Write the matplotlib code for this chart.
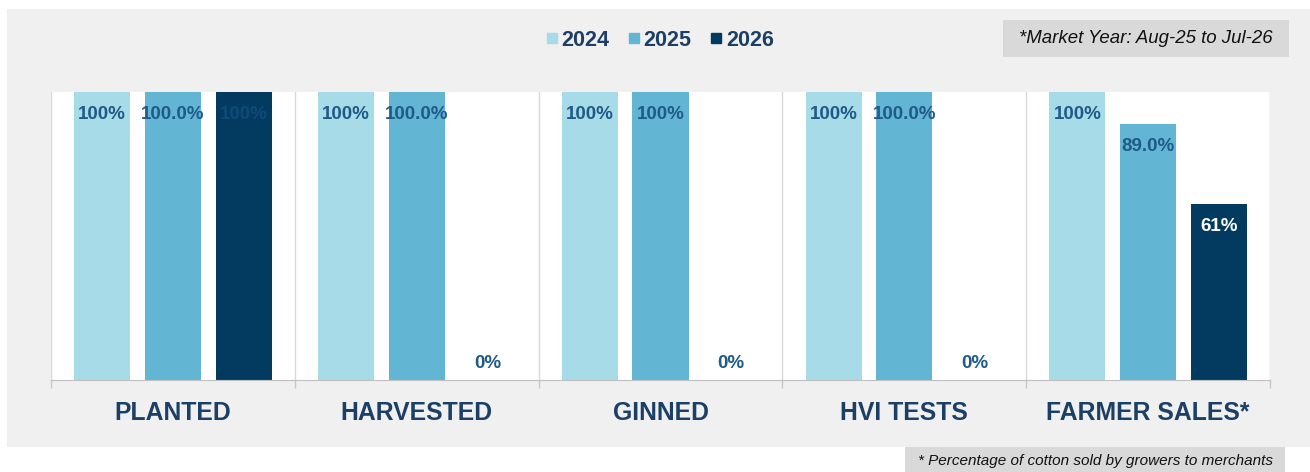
import matplotlib
matplotlib.use('Agg')
import matplotlib.pyplot as plt
from matplotlib.patches import Rectangle
from matplotlib.lines import Line2D
import numpy as np

plt.rcParams['font.family'] = ['Liberation Sans', 'DejaVu Sans']

# 数据
categories = ['PLANTED', 'HARVESTED', 'GINNED', 'HVI TESTS', 'FARMER SALES*']
years = ['2024', '2025', '2026']
values_2024 = [100, 100, 100, 100, 100]
values_2025 = [100, 100, 100, 100, 89]
values_2026 = [100, 0, 0, 0, 61]
labels_2024 = ['100%', '100%', '100%', '100%', '100%']
labels_2025 = ['100.0%', '100.0%', '100%', '100.0%', '89.0%']
labels_2026 = ['100%', '0%', '0%', '0%', '61%']

colors = ['#a7dbe7', '#62b6d4', '#023a60']
label_colors = ['#1f5a8a', '#1f5a8a', '#ffffff']
navy = '#1c3f66'

W, H = 1310, 472
fig = plt.figure(figsize=(W / 100, H / 100), dpi=100)
fig.patch.set_facecolor('white')


def box(x0, y0, x1, y1):
    # 像素坐标(左上原点) -> figure 坐标
    return (x0 / W, 1 - y1 / H, (x1 - x0) / W, (y1 - y0) / H)


# 灰色背景
x, y, w, h = box(7, 9, 1310, 447)
fig.patches.append(Rectangle((x, y), w, h, transform=fig.transFigure,
                             facecolor='#f0f0f0', edgecolor='none', zorder=-10))

ax = fig.add_axes(box(51, 92, 1270, 380))
ax.set_facecolor('white')

n = len(categories)
xs = np.arange(n)
bar_w = 0.23
offset = 0.29
series = [values_2024, values_2025, values_2026]
series_labels = [labels_2024, labels_2025, labels_2026]

for i, (vals, labs) in enumerate(zip(series, series_labels)):
    pos = xs + (i - 1) * offset
    ax.bar(pos, vals, width=bar_w, color=colors[i], zorder=2)
    for p, v, t in zip(pos, vals, labs):
        ty = v - 7.8 if v > 0 else 5.8
        tc = label_colors[i] if v > 0 else label_colors[0]
        if i == 2 and v == 100:
            tc = '#0f4a78'
        ax.text(p, ty, t, ha='center', va='center', fontsize=13.5,
                fontweight='bold', color=tc, zorder=3)

ax.set_xlim(-0.5, n - 0.5)
ax.set_ylim(0, 100)
for b in np.arange(n + 1) - 0.5:
    ax.axvline(b, color='#d9d9d9', lw=1, zorder=1)
ax.set_yticks([])
ax.set_xticks(xs)
ax.set_xticklabels(categories, fontsize=17.8, fontweight='bold', color=navy)
ax.tick_params(axis='x', which='major', length=0, pad=15)
ax.set_xticks(np.arange(n + 1) - 0.5, minor=True)
ax.tick_params(axis='x', which='minor', length=6, color='#c8c8c8', width=1)
for s in ['top', 'left', 'right']:
    ax.spines[s].set_visible(False)
ax.spines['bottom'].set_color('#c0c0c0')

# 图例
handles = [Line2D([], [], marker='s', linestyle='none', markersize=7.5,
                  markerfacecolor=c, markeredgecolor=c) for c in colors]
fig.legend(handles, years, loc='center', bbox_to_anchor=(659 / W, 1 - 40 / H),
           ncol=3, frameon=False, handletextpad=0.1, columnspacing=0.8,
           handlelength=0.7, prop={'size': 15.5, 'weight': 'bold'},
           labelcolor=navy)

# 右上角说明框
x, y, w, h = box(1003, 20, 1289, 57)
fig.patches.append(Rectangle((x, y), w, h, transform=fig.transFigure,
                             facecolor='#d9d9d9', edgecolor='none', zorder=1))
fig.text(1146 / W, 1 - 38.5 / H, '*Market Year: Aug-25 to Jul-26', ha='center',
         va='center', fontsize=13.4, style='italic', color='#111111')

# 底部脚注
x, y, w, h = box(905, 447, 1285, 472)
fig.patches.append(Rectangle((x, y), w, h, transform=fig.transFigure,
                             facecolor='#d9d9d9', edgecolor='none', zorder=1))
fig.text(1096 / W, 1 - 461 / H, '* Percentage of cotton sold by growers to merchants',
         ha='center', va='center', fontsize=11, style='italic', color='#111111')

fig.savefig('out.png', dpi=100)
